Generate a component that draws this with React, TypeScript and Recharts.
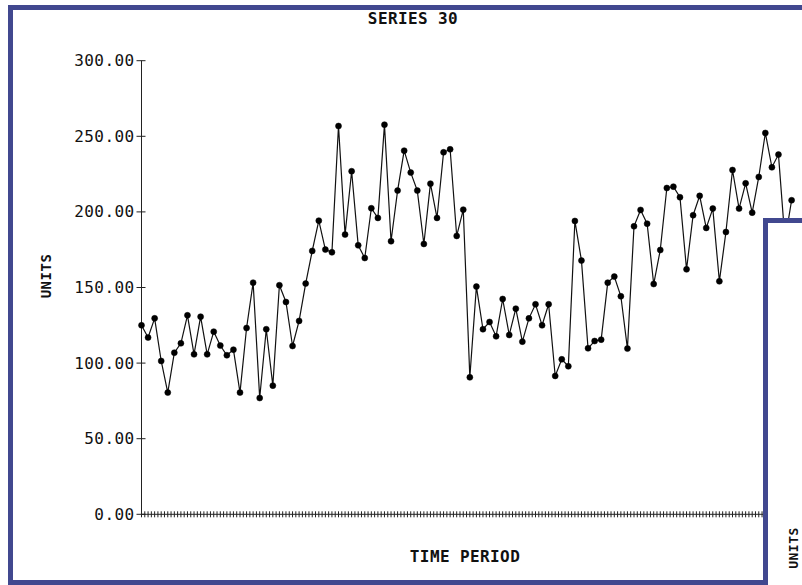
import React from 'react';
import { LineChart, Line, XAxis, YAxis } from 'recharts';

// values, one per time period
const units = [
  125.0, 116.9, 129.6, 101.4, 80.5, 106.9, 113.1, 131.6, 105.8, 130.7,
  105.8, 120.8, 111.6, 105.2, 108.9, 80.5, 123.2, 153.2, 76.9, 122.4,
  85.1, 151.5, 140.4, 111.3, 127.9, 152.6, 174.2, 194.2, 175.1, 173.3,
  256.8, 185.0, 226.9, 177.9, 169.5, 202.4, 196.0, 257.7, 180.6, 214.1,
  240.5, 226.0, 214.1, 178.8, 218.7, 196.0, 239.4, 241.4, 184.1, 201.5,
  90.6, 150.6, 122.4, 127.2, 117.7, 142.4, 118.6, 136.0, 114.2, 129.6,
  138.9, 125.0, 138.9, 91.5, 102.5, 97.9, 194.0, 167.8, 109.8, 114.6,
  115.5, 153.2, 157.2, 144.2, 109.6, 190.5, 201.3, 192.2, 152.3, 174.8,
  215.8, 216.7, 209.7, 162.0, 197.8, 210.6, 189.4, 202.2, 154.1, 186.7,
  227.7, 202.2, 218.9, 199.5, 223.1, 252.2, 229.5, 237.9, 181.0, 207.7,
];
const periods = units.map((_, i) => i + 1);
const yTicks = [0, 50, 100, 150, 200, 250, 300];
const xTicks = Array.from({ length: 199 }, (_, i) => 1 + i * 0.5);

const data = periods.map((t, i) => ({ t, v: units[i] }));

const BLUE = '#41488f';
const FONT = '"DejaVu Sans Mono", "Liberation Mono", monospace';

function XTick({ x, y }: any) {
  return <line x1={x} x2={x} y1={y - 3} y2={y + 3} stroke="#222" strokeWidth={1} />;
}

function YTick({ x, y, payload }: any) {
  return (
    <g>
      <line x1={x - 5} x2={x + 4} y1={y} y2={y} stroke="#222" strokeWidth={1} />
      <text
        x={x - 7}
        y={y}
        textAnchor="end"
        dominantBaseline="central"
        fontFamily={FONT}
        fontSize={16}
        letterSpacing={0.4}
        fill="#111"
      >
        {Number(payload.value).toFixed(2)}
      </text>
    </g>
  );
}

export default function App() {
  return (
    <div style={{ position: 'absolute', left: 0, top: 0, width: 802, height: 585, overflow: 'hidden', background: '#fff' }}>
      {/* main window */}
      <div
        style={{
          position: 'absolute', left: 8, top: 5, width: 815, height: 580,
          border: `5px solid ${BLUE}`, boxSizing: 'border-box', background: '#fff',
        }}
      />
      <div style={{ position: 'absolute', left: 0, top: 0 }}>
        <LineChart width={802} height={585} data={data} margin={{ top: 60.7, right: 10.4, bottom: 40.7, left: 41.5 }}>
          <XAxis
            dataKey="t"
            type="number"
            domain={[1, 100]}
            ticks={xTicks}
            interval={0}
            tick={<XTick />}
            tickLine={false}
            tickSize={0}
            tickMargin={0}
            height={30}
            axisLine={{ stroke: '#222' }}
          />
          <YAxis
            type="number"
            domain={[0, 300]}
            ticks={yTicks}
            interval={0}
            tick={<YTick />}
            tickLine={false}
            tickSize={0}
            tickMargin={0}
            width={100}
            axisLine={{ stroke: '#222' }}
          />
          <Line
            dataKey="v"
            stroke="#111"
            strokeWidth={1.2}
            dot={{ r: 3, fill: '#000', stroke: '#000', strokeWidth: 0.5 }}
            isAnimationActive={false}
          />
        </LineChart>
      </div>
      {/* titles */}
      <div style={{ position: 'absolute', left: 313, width: 200, top: 9, textAlign: 'center', fontFamily: FONT, fontSize: 16, fontWeight: 'bold', letterSpacing: 0.4, color: '#111' }}>
        SERIES 30
      </div>
      <div style={{ position: 'absolute', left: 365, width: 200, top: 547, textAlign: 'center', fontFamily: FONT, fontSize: 16, fontWeight: 'bold', letterSpacing: 0.4, color: '#111' }}>
        TIME PERIOD
      </div>
      <div
        style={{
          position: 'absolute', left: 46, top: 276, transform: 'translate(-50%, -50%) rotate(-90deg)',
          fontFamily: FONT, fontSize: 14, fontWeight: 'bold', letterSpacing: 0.5, color: '#111', whiteSpace: 'nowrap',
        }}
      >
        UNITS
      </div>
      {/* second window overlapping at the bottom right */}
      <div
        style={{
          position: 'absolute', left: 763, top: 218, width: 100, height: 400,
          border: `5px solid ${BLUE}`, boxSizing: 'border-box', background: '#fff',
        }}
      />
      <div
        style={{
          position: 'absolute', left: 793, top: 548, transform: 'translate(-50%, -50%) rotate(-90deg)',
          fontFamily: FONT, fontSize: 13, fontWeight: 'bold', letterSpacing: 0.5, color: '#111', whiteSpace: 'nowrap',
        }}
      >
        UNITS
      </div>
    </div>
  );
}
